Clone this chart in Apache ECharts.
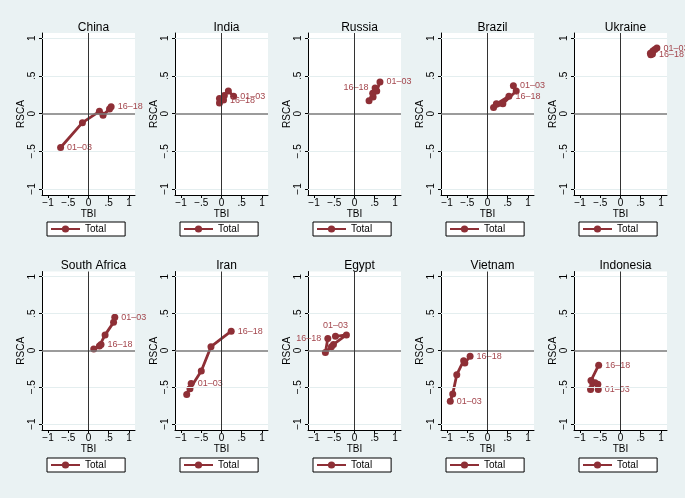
<!DOCTYPE html>
<html>
<head>
<meta charset="utf-8">
<script src="https://cdn.jsdelivr.net/npm/echarts@6/dist/echarts.min.js"></script>
<style>
html,body{margin:0;padding:0;background:#EAF2F3;}
#c{width:685px;height:498px;}
</style>
</head>
<body>
<div id="c"></div>
<script>
// ---- data ----
const countries = ['China','India','Russia','Brazil','Ukraine','South Africa','Iran','Egypt','Vietnam','Indonesia'];
const periods = ['01–03','04–06','07–09','10–12','13–15','16–18'];
const tickVals = [-1,-0.5,0,0.5,1];
const tickText = ['−1','−.5','0','.5','1'];

const chinaTBI   = [-0.69,-0.15,0.27,0.36,0.52,0.56];
const chinaRSCA  = [-0.45,-0.12,0.03,-0.02,0.06,0.09];
const indiaTBI   = [0.30,0.17,0.07,-0.05,-0.05,0.05];
const indiaRSCA  = [0.23,0.30,0.24,0.20,0.14,0.18];
const russiaTBI  = [0.63,0.55,0.46,0.36,0.45,0.51];
const russiaRSCA = [0.42,0.30,0.22,0.17,0.27,0.34];
const brazilTBI  = [0.64,0.71,0.38,0.15,0.22,0.53];
const brazilRSCA = [0.37,0.30,0.13,0.08,0.13,0.23];
const ukraineTBI = [0.90,0.85,0.80,0.74,0.75,0.79];
const ukraineRSCA= [0.87,0.85,0.83,0.80,0.78,0.79];
const safTBI     = [0.65,0.62,0.41,0.27,0.13,0.31];
const safRSCA    = [0.45,0.38,0.21,0.06,0.02,0.08];
const iranTBI    = [-0.75,-0.86,-0.78,-0.50,-0.26,0.24];
const iranRSCA   = [-0.45,-0.60,-0.52,-0.28,0.05,0.26];
const egyptTBI   = [-0.47,-0.20,-0.52,-0.57,-0.72,-0.66];
const egyptRSCA  = [0.19,0.21,0.08,0.05,-0.03,0.16];
const vietTBI    = [-0.92,-0.86,-0.76,-0.59,-0.56,-0.43];
const vietRSCA   = [-0.69,-0.59,-0.33,-0.14,-0.17,-0.08];
const indoTBI    = [-0.55,-0.56,-0.63,-0.74,-0.73,-0.54];
const indoRSCA   = [-0.53,-0.46,-0.44,-0.53,-0.41,-0.20];

const tbiList  = [chinaTBI,indiaTBI,russiaTBI,brazilTBI,ukraineTBI,safTBI,iranTBI,egyptTBI,vietTBI,indoTBI];
const rscaList = [chinaRSCA,indiaRSCA,russiaRSCA,brazilRSCA,ukraineRSCA,safRSCA,iranRSCA,egyptRSCA,vietRSCA,indoRSCA];

// ---- layout / style ----
const colLeft = [42,175,308,441,574];
const rowTop = [33,271.5];
const rowH = [162,158.5];
const gridW = 93;
const titleTop = [17,255];
const legendTop = [222,458];
// label positions for first / last period in each panel
const firstPos = ['right','right','right','right','right','right','right','top','right','right'];
const lastPos  = ['right','right','left','right','right','right','right','left','right','right'];

const LINE = '#8E2F36';
const LAB = '#A4474E';
const FONT = 'Liberation Sans, Arial, sans-serif';

const grid=[],xAxis=[],yAxis=[],series=[],title=[],legend=[];
countries.forEach((name,i)=>{
  const c=i%5, r=Math.floor(i/5);
  const L=colLeft[c];
  grid.push({left:L,top:rowTop[r],width:gridW,height:rowH[r],show:true,backgroundColor:'#fff',borderWidth:0});
  xAxis.push({type:'value',gridIndex:i,min:-1.15,max:1.15,
    name:'TBI',nameLocation:'middle',nameGap:13,
    nameTextStyle:{fontFamily:FONT,fontSize:10,color:'#000'},
    axisLine:{show:true,onZero:false,lineStyle:{color:'#000',width:1}},
    axisTick:{show:true,length:3,customValues:tickVals,lineStyle:{color:'#000'}},
    axisLabel:{customValues:tickVals,margin:3,fontFamily:FONT,fontSize:10,color:'#000',
      formatter:v=>tickText[tickVals.indexOf(Math.round(v*2)/2)]},
    splitLine:{show:false}});
  yAxis.push({type:'value',gridIndex:i,min:-1.08,max:1.07,
    name:'RSCA',nameLocation:'middle',nameGap:13,nameRotate:90,
    nameTextStyle:{fontFamily:FONT,fontSize:10,color:'#000'},
    axisLine:{show:true,onZero:false,lineStyle:{color:'#000',width:1}},
    axisTick:{show:true,length:3,customValues:tickVals,lineStyle:{color:'#000'}},
    axisLabel:{customValues:tickVals,margin:5,rotate:90,fontFamily:FONT,fontSize:10,color:'#000',
      formatter:v=>tickText[tickVals.indexOf(Math.round(v*2)/2)]},
    splitLine:{show:false}});
  title.push({text:name,left:L+gridW/2,top:titleTop[r],textAlign:'center',
    textStyle:{fontFamily:FONT,fontSize:12,fontWeight:'normal',color:'#000'}});
  legend.push({data:['Total'],left:L+5,top:legendTop[r],orient:'horizontal',
    backgroundColor:'#fff',borderColor:'#000',borderWidth:1,borderRadius:0,
    padding:[2,19,2,3],itemWidth:29,itemHeight:9,itemGap:5,
    textStyle:{fontFamily:FONT,fontSize:10,color:'#000'},selectedMode:false});
  // reference lines (grid lines and zero lines)
  series.push({name:'ref'+i,type:'line',xAxisIndex:i,yAxisIndex:i,data:[],z:1,
    markLine:{silent:true,symbol:'none',animation:false,label:{show:false},
      data:[
        {yAxis:1,lineStyle:{color:'#E4EEEF',width:1,type:'solid'}},
        {yAxis:0.5,lineStyle:{color:'#E4EEEF',width:1,type:'solid'}},
        {yAxis:-0.5,lineStyle:{color:'#E4EEEF',width:1,type:'solid'}},
        {yAxis:-1,lineStyle:{color:'#E4EEEF',width:1,type:'solid'}},
        {yAxis:0,lineStyle:{color:'#7A7A7A',width:1.5,type:'solid'}},
        {xAxis:0,lineStyle:{color:'#333',width:1,type:'solid'}}
      ]}});
  const xs=tbiList[i], ys=rscaList[i];
  const n=xs.length;
  series.push({name:'Total',type:'line',xAxisIndex:i,yAxisIndex:i,z:3,
    symbol:'circle',symbolSize:7,animation:false,
    lineStyle:{color:LINE,width:2.8},itemStyle:{color:LINE},
    data:xs.map((x,k)=>{
      const d={value:[x,ys[k]]};
      if(k===0||k===n-1){
        d.label={show:true,formatter:periods[k],position:k===0?firstPos[i]:lastPos[i],
          distance:3,color:LAB,fontFamily:FONT,fontSize:9};
      }
      return d;
    })});
});

const chart=echarts.init(document.getElementById('c'),null,{renderer:'canvas'});
chart.setOption({backgroundColor:'#EAF2F3',animation:false,grid,xAxis,yAxis,series,title,legend});
</script>
</body>
</html>
